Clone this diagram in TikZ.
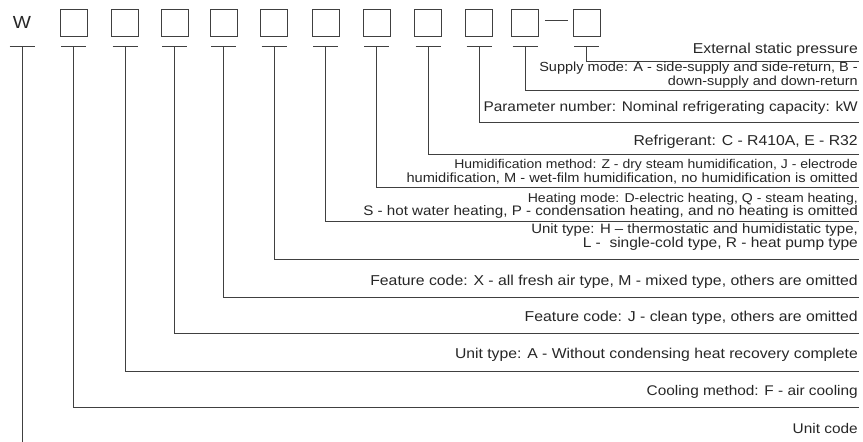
\documentclass[tikz,border=0pt]{standalone}
\usepackage{fontspec}
\setmainfont{Liberation Sans}[FakeStretch = 1.1]
\usetikzlibrary{positioning}
\newcommand{\notesize}[1]{\fontsize{#1}{13.3}\selectfont}
\tikzset{
code box/.style = {rectangle, draw = black!75, minimum size = 27pt, inner sep = 0pt, line width = 0.7pt},
lead/.style = {draw = black!75, line width = 0.7pt},
note/.style = {anchor = base east, align = right, inner sep = 0pt, text = black!85, font = \notesize{#1}},
note/.default = 14.2,
}
\begin{document}
\begin{tikzpicture}[x = 1pt, y = -1pt]
      \useasboundingbox (0, 0) rectangle (863, 442);
      % code letters and boxes
      \node[text = black!85, font = \fontsize{17.5}{17.5}\selectfont] (w) at (22, 22.5) {W};
      \node[code box] (b1) at (73.5, 22.5) {};
      \node[code box] (b2) at (125, 22.5) {};
      \node[code box] (b3) at (174.5, 22.5) {};
      \node[code box] (b4) at (223.5, 22.5) {};
      \node[code box] (b5) at (274, 22.5) {};
      \node[code box] (b6) at (325.5, 22.5) {};
      \node[code box] (b7) at (376.5, 22.5) {};
      \node[code box, line width = 1pt] (b8) at (428, 22.5) {};
      \node[code box, line width = 1pt] (b9) at (479, 22.5) {};
      \node[code box] (b10) at (525, 22.5) {};
      \node[code box] (b11) at (586.5, 22.5) {};
      \draw[lead] ([xshift = 6pt, yshift = 2.5pt]b10.east) -- ([xshift = -5pt, yshift = 2.5pt]b11.west);
      % ticks under the codes
      \coordinate (t0) at (w |- 0, 46.5);
      \coordinate (t1) at (b1 |- 0, 46.5);
      \coordinate (t2) at (b2 |- 0, 46.5);
      \coordinate (t3) at (b3 |- 0, 46.5);
      \coordinate (t4) at (b4 |- 0, 46.5);
      \coordinate (t5) at (b5 |- 0, 46.5);
      \coordinate (t6) at (b6 |- 0, 46.5);
      \coordinate (t7) at (b7 |- 0, 46.5);
      \coordinate (t8) at (b8 |- 0, 46.5);
      \coordinate (t9) at (b9 |- 0, 46.5);
      \coordinate (t10) at (b10 |- 0, 46.5);
      \coordinate (t11) at (b11 |- 0, 46.5);
      \foreach \t in {t0, t1, t2, t3, t4, t5, t6, t7, t8, t9, t10, t11}
        \draw[lead] ([xshift = -12.5pt]\t) -- ([xshift = 12.5pt]\t);
      % line ends on the right
      \coordinate (r0) at (22, 442);
      \coordinate (r1) at (859, 407);
      \coordinate (r2) at (859, 371);
      \coordinate (r3) at (859, 333);
      \coordinate (r4) at (859, 297);
      \coordinate (r5) at (859, 259);
      \coordinate (r6) at (859, 221.5);
      \coordinate (r7) at (859, 187);
      \coordinate (r8) at (859, 154);
      \coordinate (r9) at (859, 122.5);
      \coordinate (r10) at (859, 90.5);
      \coordinate (r11) at (859, 61);
      \draw[lead] (t0) -- (r0);
      \draw[lead] (t1) |- (r1);
      \draw[lead] (t2) |- (r2);
      \draw[lead] (t3) |- (r3);
      \draw[lead] (t4) |- (r4);
      \draw[lead] (t5) |- (r5);
      \draw[lead] (t6) |- (r6);
      \draw[lead] (t7) |- (r7);
      \draw[lead] (t8) |- (r8);
      \draw[lead] (t9) |- (r9);
      \draw[lead] (t10) |- (r10);
      \draw[lead] (t11) |- (r11);
      % notes (multi-line ones sit on their last line)
      \node[note = 14.0] (n0) at (858, 433) {Unit code};
      \node[note = 14.0] (n1) at (858, 395) {Cooling method: F - air cooling};
      \node[note = 14.3] (n2) at (858, 358) {Unit type: A - Without condensing heat recovery complete};
      \node[note = 14.35] (n3) at (858, 321) {Feature code: J - clean type, others are omitted};
      \node[note = 14.35] (n4) at (858, 285) {Feature code: X - all fresh air type, M - mixed type, others are omitted};
      \node[note] (n5) at (858, 247) {{\notesize{13.6}Unit type: H -- thermostatic and humidistatic type,}\\{\notesize{14.1}L -\ \ single-cold type, R - heat pump type}};
      \node[note] (n6) at (858, 215.5) {{\notesize{12.8}Heating mode: D-electric heating, Q - steam heating,}\\{\notesize{13.8}S - hot water heating, P - condensation heating, and no heating is omitted}};
      \node[note] (n7) at (858, 182) {{\notesize{12.7}Humidification method: Z - dry steam humidification, J - electrode}\\{\notesize{13.3}humidification, M - wet-film humidification, no humidification is omitted}};
      \node[note = 14.35] (n8) at (858, 145) {Refrigerant: C - R410A, E - R32};
      \node[note = 14.0] (n9) at (858, 111) {Parameter number: Nominal refrigerating capacity: kW};
      \node[note] (n10) at (858, 85) {{\notesize{13.2}Supply mode: A - side-supply and side-return, B -}\\{\notesize{13.1}down-supply and down-return}};
      \node[note = 14.35] (n11) at (858, 53) {External static pressure};
\end{tikzpicture}
\end{document}
